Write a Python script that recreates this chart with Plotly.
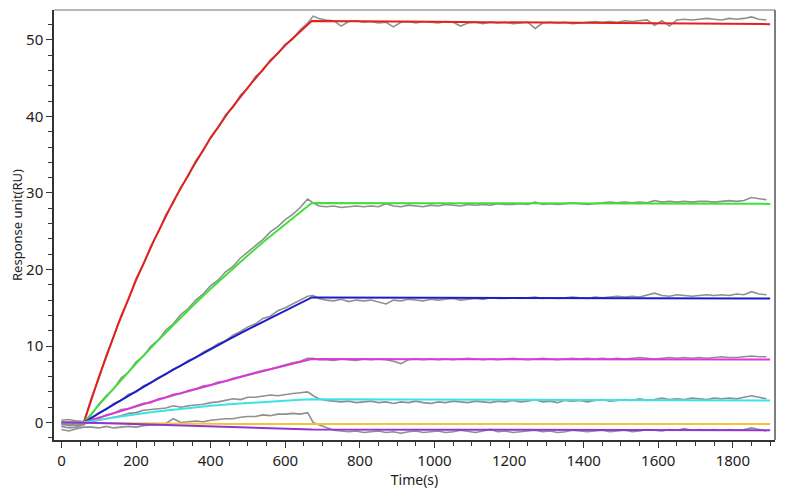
import plotly.graph_objects as go

# time points of the fitted curves (s)
fit_t = [0, 60, 100, 150, 200, 250, 300, 350, 400, 450, 500, 550, 600, 640, 671,
         1000, 1300, 1600, 1900]

fit_red = [0, 0, 5.9, 12.6, 18.6, 24.0, 28.9, 33.2, 37.2, 40.7, 43.8, 46.7, 49.3, 51.1, 52.45,
           52.35, 52.25, 52.15, 52.05]
fit_green = [0, 0, 2.28, 5.04, 7.7, 10.28, 12.75, 15.15, 17.47, 19.72, 21.87, 23.95, 25.96, 27.52, 28.7,
             28.66, 28.63, 28.6, 28.57]
fit_blue = [0, 0, 1.2, 2.66, 4.11, 5.52, 6.9, 8.26, 9.6, 10.9, 12.17, 13.42, 14.65, 15.6, 16.35,
            16.3, 16.27, 16.23, 16.2]
fit_magenta = [0, 0, 0.62, 1.39, 2.13, 2.85, 3.56, 4.25, 4.92, 5.58, 6.22, 6.84, 7.45, 7.93, 8.3,
               8.28, 8.27, 8.26, 8.25]
fit_cyan = [0, 0, 0.35, 0.74, 1.09, 1.41, 1.69, 1.95, 2.18, 2.38, 2.56, 2.72, 2.87, 2.98, 3.05,
            3.0, 2.96, 2.92, 2.88]
fit_yellow = [0, 0, -0.05, -0.1, -0.13, -0.15, -0.16, -0.17, -0.17, -0.18, -0.18, -0.18, -0.18, -0.18, -0.18,
              -0.18, -0.18, -0.18, -0.18]
fit_purple = [0, 0, -0.06, -0.13, -0.21, -0.28, -0.35, -0.43, -0.5, -0.57, -0.65, -0.72, -0.8, -0.85, -0.9,
              -0.93, -0.95, -0.98, -1.0]

# time points of the measured sensorgrams (s)
raw_t = [0, 20, 40, 60, 80, 100, 120, 140, 160, 180, 200, 220, 240, 260, 280, 300, 320, 340,
         360, 380, 400, 420, 440, 460, 480, 500, 520, 540, 560, 580, 600, 620, 640, 660,
         675, 690,
         710, 730, 750, 770, 790, 810, 830, 850, 870, 890, 910, 930, 950, 970, 990,
         1010, 1030, 1050, 1070, 1090, 1110, 1130, 1150, 1170, 1190, 1210, 1230, 1250, 1270, 1290,
         1310, 1330, 1350, 1370, 1390, 1410, 1430, 1450, 1470, 1490, 1510, 1530, 1550, 1570, 1590,
         1610, 1630, 1650, 1670, 1690, 1710, 1730, 1750, 1770, 1790, 1810, 1830, 1850, 1870, 1890]

raw_red = [0.3, 0.4, 0.2, 0.1, 3.2, 5.7, 8.8, 11.2, 14.0, 16.1, 18.8, 20.7, 23.1, 24.9, 27.2, 28.7, 30.8, 32.2,
           34.2, 35.5, 37.3, 38.5, 40.2, 41.2, 42.8, 43.7, 45.2, 46.0, 47.4, 48.2, 49.4, 50.1, 51.3, 52.2,
           53.1, 52.8,
           52.6, 52.5, 51.8, 52.4, 52.5, 52.3, 52.4, 52.2, 52.3, 51.7, 52.3, 52.4, 52.2, 52.4, 52.3,
           52.2, 52.4, 52.3, 51.8, 52.2, 52.3, 52.1, 52.3, 52.2, 52.3, 52.1, 52.2, 52.3, 51.5, 52.2,
           52.3, 52.2, 52.3, 52.1, 52.2, 52.3, 52.4, 52.3, 52.4, 52.3, 52.5, 52.4, 52.5, 52.6, 51.9,
           52.5, 51.8, 52.6, 52.7, 52.6, 52.7, 52.8, 52.7, 52.6, 52.8, 52.7, 52.8, 53.0, 52.7, 52.6]
raw_green = [-0.2, -0.4, -0.3, -0.1, 1.0, 2.4, 3.5, 4.4, 5.8, 6.6, 7.9, 8.7, 10.0, 10.8, 12.1, 12.9, 14.1, 14.9,
             16.0, 16.8, 17.9, 18.6, 19.7, 20.4, 21.5, 22.3, 23.2, 23.9, 24.9, 25.6, 26.5, 27.2, 28.1, 29.2,
             28.7, 28.3,
             28.2, 28.3, 28.1, 28.2, 28.3, 28.2, 28.3, 28.2, 28.6, 28.3, 28.2, 28.4, 28.3, 28.2, 28.4,
             28.3, 28.5, 28.4, 28.3, 28.5, 28.4, 28.5, 28.4, 28.6, 28.5, 28.5, 28.6, 28.5, 28.8, 28.5,
             28.6, 28.5, 28.6, 28.7, 28.6, 28.5, 28.6, 28.7, 28.8, 28.7, 28.8, 28.7, 28.8, 28.7, 29.0,
             28.8, 28.9, 28.8, 28.9, 28.8, 28.9, 28.9, 28.8, 28.9, 29.0, 28.9, 29.0, 29.4, 29.2, 29.1]
raw_blue = [-0.5, -0.7, -0.6, -0.3, 0.5, 1.3, 1.7, 2.5, 2.9, 3.7, 4.0, 4.8, 5.2, 5.9, 6.3, 7.0, 7.4, 8.1,
            8.5, 9.2, 9.7, 10.3, 10.7, 11.4, 11.9, 12.5, 12.9, 13.6, 13.9, 14.6, 15.0, 15.5, 15.9, 16.5,
            16.6, 16.2,
            16.0, 15.9, 16.1, 15.8, 16.0, 15.9, 16.0, 15.7, 15.5, 16.0, 15.9, 16.1, 16.0, 15.9, 16.1,
            16.0, 16.1, 16.2, 16.0, 16.1, 16.2, 16.1, 16.3, 16.2, 16.2, 16.3, 16.2, 16.3, 16.4, 16.2,
            16.3, 16.2, 16.3, 16.4, 16.3, 16.2, 16.4, 16.3, 16.4, 16.5, 16.4, 16.5, 16.4, 16.6, 16.9,
            16.6, 16.5, 16.7, 16.6, 16.5, 16.6, 16.7, 16.6, 16.7, 16.6, 16.8, 16.7, 17.1, 16.8, 16.7]
raw_magenta = [0.1, 0.0, 0.2, 0.1, 0.4, 0.5, 1.0, 1.2, 1.7, 1.8, 2.2, 2.5, 2.6, 3.1, 3.3, 3.7, 3.8, 4.2,
               4.4, 4.8, 4.9, 5.3, 5.4, 5.8, 6.0, 6.3, 6.5, 6.8, 7.0, 7.3, 7.5, 7.8, 8.0, 8.4,
               8.4, 8.2,
               8.2, 8.1, 8.3, 8.2, 8.1, 8.3, 8.2, 8.3, 8.2, 8.0, 7.7, 8.2, 8.3, 8.2, 8.3,
               8.2, 8.3, 8.2, 8.3, 8.4, 8.3, 8.2, 8.3, 8.2, 8.3, 8.4, 8.3, 8.2, 8.3, 8.4,
               8.3, 8.2, 8.3, 8.4, 8.3, 8.4, 8.3, 8.4, 8.3, 8.4, 8.3, 8.4, 8.5, 8.4, 8.3,
               8.4, 8.5, 8.4, 8.5, 8.4, 8.5, 8.4, 8.5, 8.6, 8.5, 8.5, 8.6, 8.7, 8.6, 8.6]
raw_cyan = [-0.3, -0.2, -0.4, -0.2, 0.1, 0.3, 0.5, 0.8, 0.9, 1.2, 1.3, 1.6, 1.7, 1.8, 1.9, 2.2, 2.0, 2.2,
            2.3, 2.4, 2.6, 2.7, 2.9, 3.1, 3.0, 3.3, 3.3, 3.5, 3.6, 3.5, 3.7, 3.8, 3.9, 4.0,
            3.5, 3.1,
            2.9, 2.8, 2.7, 2.8, 2.6, 2.7, 2.8, 2.6, 2.7, 2.5, 2.7, 2.6, 2.8, 2.6, 2.5,
            2.7, 2.6, 2.8, 2.7, 2.6, 2.8, 2.7, 2.6, 2.8, 2.7, 2.9, 2.7, 2.8, 3.0, 2.7,
            2.8, 2.6, 2.9, 2.8, 2.9, 2.7, 2.9, 3.0, 2.8, 2.9, 3.0, 2.9, 3.1, 2.9, 3.0,
            3.2, 3.0, 3.1, 3.0, 3.2, 3.1, 3.0, 3.2, 3.1, 3.2, 3.1, 3.3, 3.5, 3.3, 3.1]
raw_purple = [-0.9, -1.1, -0.8, -0.6, -0.6, -0.7, -0.5, -0.7, -0.6, -0.5, -0.6, -0.4, -0.3, -0.3, -0.1, 0.5, 0.0, 0.1,
              0.2, 0.1, 0.3, 0.4, 0.5, 0.5, 0.7, 0.8, 0.8, 1.0, 0.9, 1.1, 1.1, 1.2, 1.1, 1.3,
              0.0, -0.3,
              -0.7, -1.0, -1.1, -1.2, -1.1, -1.3, -1.2, -1.1, -1.3, -1.2, -1.4, -1.2, -1.1, -1.3, -1.2,
              -1.1, -1.3, -1.2, -1.0, -1.2, -1.3, -1.1, -0.9, -1.2, -1.1, -1.3, -1.2, -1.1, -1.0, -1.2,
              -1.1, -1.3, -1.2, -1.0, -1.1, -1.2, -1.1, -1.0, -1.2, -1.1, -1.0, -1.2, -1.1, -0.9, -1.0,
              -1.1, -0.9, -1.0, -0.8, -1.0, -0.9, -1.0, -0.9, -1.0, -0.9, -1.0, -0.9, -0.7, -0.9, -1.1]

fits = [
    (fit_red, "#e3211c"),
    (fit_green, "#3fe03a"),
    (fit_blue, "#1c1cc8"),
    (fit_magenta, "#d93ad6"),
    (fit_cyan, "#3ae3e6"),
    (fit_yellow, "#f2c43c"),
    (fit_purple, "#8e35d4"),
]
raws = [raw_red, raw_green, raw_blue, raw_magenta, raw_cyan, raw_purple]

fig = go.Figure()

# measured curves in grey underneath
for r in raws:
    fig.add_trace(go.Scatter(x=raw_t, y=r, mode="lines",
                             line=dict(color="#8f8f8f", width=1.6),
                             showlegend=False, hoverinfo="skip"))

# fitted curves on top
for vals, col in fits:
    fig.add_trace(go.Scatter(x=fit_t, y=vals, mode="lines",
                             line=dict(color=col, width=2),
                             showlegend=False))

# the page body has an 8px margin, so the margins below allow for it
font_name = "Noto Sans"
fig.update_layout(
    width=788, height=496,
    margin=dict(l=46, r=21, t=2, b=64),
    paper_bgcolor="white", plot_bgcolor="white",
    font=dict(family=font_name, size=15, color="#222"),
    xaxis=dict(
        range=[-20, 1913], tickmode="linear", tick0=0, dtick=200,
        ticks="outside", ticklen=6, tickcolor="#333", tickwidth=1,
        minor=dict(dtick=50, ticks="outside", ticklen=4, tickcolor="#333"),
        showgrid=False, zeroline=False,
        showline=True, linecolor="#333", linewidth=1.5,
        title=dict(text="Time(s)", font=dict(size=14), standoff=0),
        ticklabelstandoff=0, automargin=False,
    ),
    yaxis=dict(
        range=[-2.28, 53.9], tickmode="linear", tick0=0, dtick=10,
        ticks="outside", ticklen=6, tickcolor="#333", tickwidth=1,
        minor=dict(dtick=2, ticks="outside", ticklen=4, tickcolor="#333"),
        showgrid=False, zeroline=False,
        showline=True, linecolor="#333", linewidth=1.5,
        title=dict(text="Response unit(RU)", font=dict(size=13), standoff=8),
        automargin=False,
    ),
    shapes=[
        dict(type="line", xref="paper", yref="paper", x0=0, x1=1, y0=1, y1=1,
             line=dict(color="#a0a0a0", width=1.5)),
        dict(type="line", xref="paper", yref="paper", x0=1, x1=1, y0=0, y1=1,
             line=dict(color="#555", width=1.5)),
    ],
)

fig.write_html("out.html")
